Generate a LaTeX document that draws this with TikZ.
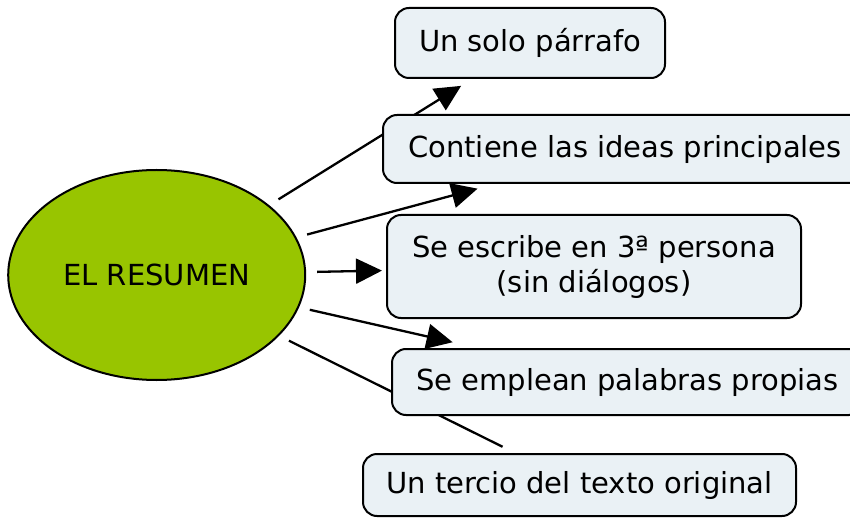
\documentclass[tikz,border=0pt]{standalone}
\usepackage{fontspec}
\setmainfont{DejaVu Sans}
\usetikzlibrary{shapes.geometric,arrows.meta,backgrounds}
\definecolor{ovalgreen}{RGB}{152,197,0}
\definecolor{boxfill}{RGB}{234,241,245}
\begin{document}
\begin{tikzpicture}[x=1pt,y=-1pt,
  boxbase/.style={draw=black, line width=2pt, fill=boxfill, rounded corners=14pt, inner sep=0pt,
    font=\fontsize{29}{35}\selectfont},
  concept/.style={boxbase, text height=21pt, text depth=4pt},
  link/.style={line width=2.3pt, shorten <=11pt},
  tip/.style={-{Triangle[length=26pt,width=25pt]}}
]
\useasboundingbox (0,0) rectangle (850,518);
\node[ellipse, draw=black, line width=2pt, fill=ovalgreen, minimum width=297pt, minimum height=210pt,
  inner sep=0pt, font=\fontsize{29}{35}\selectfont] (e) at (156.7,275) {EL RESUMEN};
\node[concept, minimum width=270pt, minimum height=70pt] (a) at (530,43) {Un solo párrafo};
\node[concept, minimum width=484pt, minimum height=68pt] (b) at (625,149) {Contiene las ideas principales};
\node[boxbase, align=center, minimum width=414pt, minimum height=103pt] (c) at (594,266.5) {Se escribe en 3ª persona\\(sin diálogos)};
\node[concept, minimum width=471pt, minimum height=66pt] (d) at (627.5,382) {Se emplean palabras propias};
\node[concept, minimum width=433pt, minimum height=62pt] (f) at (579.5,485) {Un tercio del texto original};
\begin{scope}[on background layer]
\draw[link,tip,shorten >=13pt] (e) -- (a);
\draw[link,tip,shorten >=18pt] (e) -- (b);
\draw[link,tip,shorten >=4pt] (e) -- (c);
\draw[link,tip,shorten >=26pt] (e) -- (d);
\draw[link,shorten >=14pt] (e) -- (f);
\end{scope}
\end{tikzpicture}
\end{document}
